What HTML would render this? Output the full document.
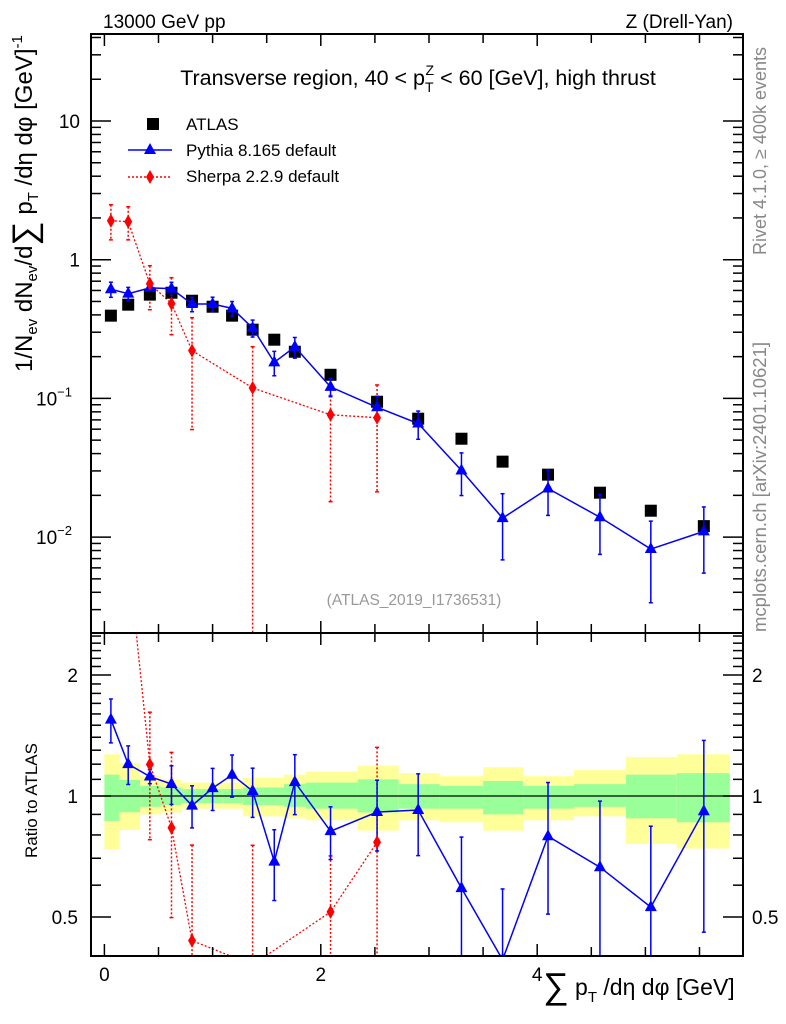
<!DOCTYPE html>
<html><head><meta charset="utf-8"><style>
body{margin:0;background:#fff;overflow:hidden}
svg{display:block;font-family:"Liberation Sans",sans-serif}
</style></head><body>
<svg id="c" width="786" height="1024" viewBox="0 0 786 1024">
<rect x="0" y="0" width="786" height="1024" fill="#fff"/>
<g id="ratioBands"></g>
<g id="main"></g>
<g id="ratio"></g>
<g id="axes"></g>
<text x="103" y="28" font-size="19">13000 GeV pp</text>
<text x="733" y="28" font-size="19" text-anchor="end">Z (Drell-Yan)</text>
<text x="418" y="85" font-size="21.5" text-anchor="middle">Transverse region, 40 &lt; p<tspan font-size="14" dy="7">T</tspan><tspan font-size="14" dx="-8" dy="-17">Z</tspan><tspan dy="10"> &lt; 60 [GeV], high thrust</tspan></text>
<g>
<rect x="147" y="118" width="12" height="12" fill="#000"/>
<text x="186" y="130" font-size="17">ATLAS</text>
<line x1="128" y1="150" x2="172" y2="150" stroke="#00f" stroke-width="1.5"/>
<path d="M150,143 L156,154 L144,154 Z" fill="#00f"/>
<text x="186" y="156" font-size="17">Pythia 8.165 default</text>
<line x1="128" y1="177" x2="172" y2="177" stroke="#f00" stroke-width="1.5" stroke-dasharray="2,2"/>
<path d="M150,170 L154,177 L150,184 L146,177 Z" fill="#f00"/>
<text x="186" y="182" font-size="17">Sherpa 2.2.9 default</text>
</g>
<text x="414" y="605" font-size="15.5" fill="#999" text-anchor="middle">(ATLAS_2019_I1736531)</text>
<text transform="translate(766,255) rotate(-90)" font-size="18" fill="#888">Rivet 4.1.0, ≥ 400k events</text>
<text transform="translate(766,632) rotate(-90)" font-size="18.5" fill="#888">mcplots.cern.ch [arXiv:2401.10621]</text>
<text transform="translate(32,372) rotate(-90)" font-size="24">1/N<tspan font-size="15" dy="5">ev</tspan><tspan dy="-5"> dN</tspan><tspan font-size="15" dy="5">ev</tspan><tspan dy="-5">/d</tspan><tspan font-size="34" dy="4">∑</tspan><tspan dy="-4"> p</tspan><tspan font-size="15" dy="6">T</tspan><tspan dy="-6"> /dη dφ  [GeV]</tspan><tspan font-size="15" dy="-10">-1</tspan></text>
<text transform="translate(37,858) rotate(-90)" font-size="17">Ratio to ATLAS</text>
<text x="543" y="995" font-size="23"><tspan font-size="36" dy="3">∑</tspan><tspan dy="-3"> p</tspan><tspan font-size="15" dy="7">T</tspan><tspan dy="-7"> /dη dφ [GeV]</tspan></text>
</svg>
<script>
const xCenters=[0.06,0.22,0.42,0.62,0.81,1.0,1.18,1.37,1.57,1.76,2.09,2.52,2.9,3.3,3.68,4.1,4.58,5.05,5.54];
const binEdges=[0,0.14,0.33,0.52,0.71,0.9,1.09,1.28,1.47,1.66,1.86,2.34,2.72,3.1,3.5,3.87,4.34,4.82,5.29,5.78];
const atlasVals=[0.395,0.474,0.56,0.578,0.506,0.458,0.395,0.313,0.265,0.217,0.148,0.0946,0.0714,0.0512,0.035,0.0282,0.0209,0.0155,0.012];
const pythiaVals=[0.612,0.569,0.626,0.619,0.479,0.479,0.446,0.322,0.182,0.235,0.121,0.0863,0.0659,0.0302,0.0137,0.0224,0.0139,0.0082,0.011];
const pythiaRelErr=[0.125,0.11,0.04,0.11,0.12,0.12,0.12,0.14,0.2,0.17,0.15,0.2,0.23,0.34,0.5,0.36,0.46,0.59,0.5];
const sherpaIdx=[0,1,2,3,4,7,10,11];
const sherpaVals=[1.91,1.88,0.671,0.482,0.221,0.119,0.0762,0.0726];
const sherpaUp=[2.49,2.41,0.905,0.742,0.382,0.236,0.105,0.125];
const sherpaLo=[1.39,1.39,0.436,0.288,0.0596,0.0001,0.018,0.0212];
const bandYUp=[1.27,1.206,1.12,1.10,1.08,1.08,1.08,1.11,1.11,1.13,1.15,1.19,1.14,1.12,1.18,1.12,1.16,1.25,1.27];
const bandYLo=[0.737,0.823,0.9,0.91,0.93,0.93,0.93,0.89,0.89,0.88,0.87,0.82,0.87,0.86,0.82,0.87,0.89,0.76,0.74];
const bandGUp=[1.13,1.096,1.06,1.05,1.04,1.04,1.04,1.05,1.05,1.07,1.08,1.10,1.07,1.06,1.09,1.06,1.07,1.13,1.14];
const bandGLo=[0.867,0.911,0.94,0.95,0.96,0.96,0.96,0.95,0.95,0.94,0.93,0.91,0.93,0.93,0.90,0.93,0.94,0.88,0.86];
const xTicks=[0,2,4];
const mainTicks=[10,1,0.1,0.01];
const ratioTicks=[2,1,0.5];

const NS="http://www.w3.org/2000/svg";
const L=91,R=743,T=34,MB=633,RB=956;
const X=v=>104.4+108.2*v;
const cl=(y,a,b)=>Math.max(a,Math.min(b,y));
const Y=v=>cl(121-138.7*(Math.log10(v)-1),T-20,MB+20);
const RY=v=>cl(796-121*Math.log2(v),MB-20,RB+20);
function mk(parent,tag,attrs){const e=document.createElementNS(NS,tag);for(const k in attrs)e.setAttribute(k,attrs[k]);parent.appendChild(e);return e;}
const gM=document.getElementById('main'),gR=document.getElementById('ratio'),gB=document.getElementById('ratioBands'),gA=document.getElementById('axes');
const defs=mk(document.getElementById('c'),'defs',{});
const c1=mk(defs,'clipPath',{id:'cm'});mk(c1,'rect',{x:L,y:T,width:R-L,height:MB-T});
const c2=mk(defs,'clipPath',{id:'cr'});mk(c2,'rect',{x:L,y:MB,width:R-L,height:RB-MB});
gM.setAttribute('clip-path','url(#cm)');gR.setAttribute('clip-path','url(#cr)');gB.setAttribute('clip-path','url(#cr)');

for(let i=0;i<xCenters.length;i++){
  const x0=X(binEdges[i]),x1=X(binEdges[i+1]);
  const y=mk(gB,'rect',{x:x0,y:RY(bandYUp[i]),width:x1-x0,height:RY(bandYLo[i])-RY(bandYUp[i]),fill:'#ffff99'});
  
  
  const g=mk(gB,'rect',{x:x0,y:RY(bandGUp[i]),width:x1-x0,height:RY(bandGLo[i])-RY(bandGUp[i]),fill:'#99ff99'});
  
  
}
mk(gR,'line',{x1:L,x2:R,y1:RY(1),y2:RY(1),stroke:'#000','stroke-width':1.3});

function tri(p,x,y,name){const e=mk(p,'path',{d:`M${x},${y-7} L${x+6},${y+4} L${x-6},${y+4} Z`,fill:'#00f'});
  
  }
function dia(p,x,y,name){const e=mk(p,'path',{d:`M${x},${y-7} L${x+4},${y} L${x},${y+7} L${x-4},${y} Z`,fill:'#f00'});
  
  }
function err(p,x,y1,y2,col,dash){const a={x1:x,x2:x,y1:y1,y2:y2,stroke:col,'stroke-width':1.5};if(dash)a['stroke-dasharray']='2,2';mk(p,'line',a);
  mk(p,'line',{x1:x-2,x2:x+2,y1:y1,y2:y1,stroke:col,'stroke-width':1.5});mk(p,'line',{x1:x-2,x2:x+2,y1:y2,y2:y2,stroke:col,'stroke-width':1.5});}

let sp=sherpaIdx.map((k,j)=>X(xCenters[k])+','+Y(sherpaVals[j])).join(' ');
mk(gM,'polyline',{points:sp,fill:'none',stroke:'#f00','stroke-width':1.3,'stroke-dasharray':'2,2'});
sherpaIdx.forEach((k,j)=>{err(gM,X(xCenters[k]),Y(sherpaUp[j]),Y(sherpaLo[j]),'#f00',true);});
atlasVals.forEach((v,i)=>{const e=mk(gM,'rect',{x:X(xCenters[i])-6,y:Y(v)-6,width:12,height:12,fill:'#000'});
  
  });
mk(gM,'polyline',{points:pythiaVals.map((v,i)=>X(xCenters[i])+','+Y(v)).join(' '),fill:'none',stroke:'#00f','stroke-width':1.5});
pythiaVals.forEach((v,i)=>{err(gM,X(xCenters[i]),Y(v*(1+pythiaRelErr[i])),Y(Math.max(v*(1-pythiaRelErr[i]),1e-4)),'#00f');tri(gM,X(xCenters[i]),Y(v),'pythia-point');});
sherpaIdx.forEach((k,j)=>dia(gM,X(xCenters[k]),Y(sherpaVals[j]),'sherpa-point'));

// ratio: sherpa line uses unclamped geometry clipped by region; compute points with clamped y via interpolation-free approach
mk(gR,'polyline',{points:sherpaIdx.map((k,j)=>X(xCenters[k])+','+(796-121*Math.log2(sherpaVals[j]/atlasVals[k]))).join(' '),fill:'none',stroke:'#f00','stroke-width':1.3,'stroke-dasharray':'2,2'});
sherpaIdx.forEach((k,j)=>{err(gR,X(xCenters[k]),RY(sherpaUp[j]/atlasVals[k]),RY(Math.max(sherpaLo[j],1e-4)/atlasVals[k]),'#f00',true);});
mk(gR,'polyline',{points:pythiaVals.map((v,i)=>X(xCenters[i])+','+RY(v/atlasVals[i])).join(' '),fill:'none',stroke:'#00f','stroke-width':1.5});
pythiaVals.forEach((v,i)=>{const r=v/atlasVals[i];err(gR,X(xCenters[i]),RY(r*(1+pythiaRelErr[i])),RY(Math.max(r*(1-pythiaRelErr[i]),0.01)),'#00f');tri(gR,X(xCenters[i]),RY(r),'pythia-ratio-point');});
sherpaIdx.forEach((k,j)=>dia(gR,X(xCenters[k]),RY(sherpaVals[j]/atlasVals[k]),'sherpa-ratio-point'));

mk(gA,'rect',{x:L,y:T,width:R-L,height:MB-T,fill:'none',stroke:'#000','stroke-width':2});
mk(gA,'rect',{x:L,y:MB,width:R-L,height:RB-MB,fill:'none',stroke:'#000','stroke-width':2});
for(let v=0;v<=5.5;v+=0.5){const x=X(v),len=(v%2===0)?12:9;
  [[T,T+len],[MB,MB-len],[MB,MB+len],[RB,RB-len]].forEach(([a,b])=>mk(gA,'line',{x1:x,x2:x,y1:a,y2:b,stroke:'#000','stroke-width':1.5}));}
xTicks.forEach(v=>{const t=mk(gA,'text',{x:X(v),y:981,'font-size':19,'text-anchor':'middle'});t.textContent=v;
  
  });
for(let d=-3;d<=1;d++){for(let m=1;m<=9;m++){const v=m*Math.pow(10,d);const yy=121-138.7*(Math.log10(v)-1);if(yy<T||yy>MB)continue;const len=m===1?20:10;
  mk(gA,'line',{x1:L,x2:L+len,y1:yy,y2:yy,stroke:'#000','stroke-width':1.5});mk(gA,'line',{x1:R,x2:R-len,y1:yy,y2:yy,stroke:'#000','stroke-width':1.5});}}
const mainLbl=['10','1','10<tspan font-size="13" dy="-9">−1</tspan>','10<tspan font-size="13" dy="-9">−2</tspan>'];
mainTicks.forEach((v,i)=>{const t=mk(gA,'text',{x:i>1?72:80,y:Y(v)+7,'font-size':19,'text-anchor':'end'});t.innerHTML=mainLbl[i];
  
  });
const rt=[0.4,0.5,0.6,0.7,0.8,0.9,1,1.1,1.2,1.3,1.4,1.5,1.6,1.7,1.8,1.9,2,2.1,2.2,2.3,2.4,2.5];
rt.forEach(v=>{const y=796-121*Math.log2(v);if(y<MB||y>RB)return;const big=ratioTicks.includes(v);const len=big?20:10;
  mk(gA,'line',{x1:L,x2:L+len,y1:y,y2:y,stroke:'#000','stroke-width':1.5});mk(gA,'line',{x1:R,x2:R-len,y1:y,y2:y,stroke:'#000','stroke-width':1.5});});
ratioTicks.forEach(v=>{const y=RY(v)+7;
  const a=mk(gA,'text',{x:78,y:y,'font-size':19,'text-anchor':'end'});a.textContent=v;
  
  
  const b=mk(gA,'text',{x:752,y:y,'font-size':19});b.textContent=v;
  
  });
</script>
</body></html>
